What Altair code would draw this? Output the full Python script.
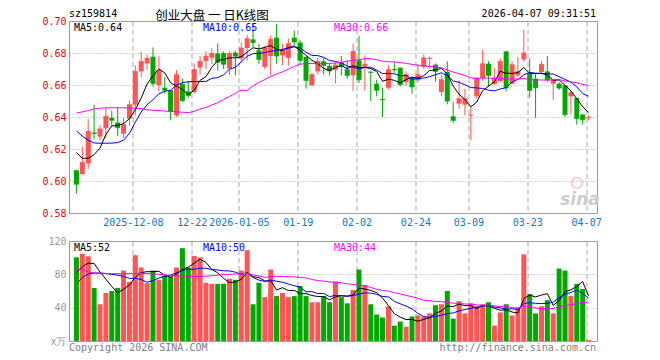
import altair as alt
import pandas as pd

RED = "#ff5555"
GREEN = "#00a800"
GRID = "#aaaaaa"
MONO = "DejaVu Sans Mono"
CJK = "Noto Sans CJK SC"

code_text = "sz159814"
title_text = "创业大盘 一 日K线图"
time_text = "2026-04-07 09:31:51"
copyright_text = "Copyright 2026 SINA.COM"
url_text = "http://finance.sina.com.cn"

opens = [0.6067, 0.6043, 0.6110, 0.6303, 0.6277, 0.6330, 0.6395, 0.6365, 0.6296, 0.6390,
         0.6477, 0.6685, 0.6735, 0.6777, 0.6600, 0.6583, 0.6567, 0.6410, 0.6606, 0.6560,
         0.6556, 0.6709, 0.6750, 0.6770, 0.6797, 0.6799, 0.6702, 0.6802, 0.6765, 0.6831,
         0.6885, 0.6817, 0.6713, 0.6781, 0.6896, 0.6785, 0.6769, 0.6896, 0.6865, 0.6775,
         0.6598, 0.6685, 0.6748, 0.6719, 0.6695, 0.6740, 0.6698, 0.6660, 0.6754, 0.6715,
         0.6683, 0.6608, 0.6512, 0.6583, 0.6700, 0.6708, 0.6619, 0.6646, 0.6629, 0.6713,
         0.6762, 0.6727, 0.6556, 0.6681, 0.6404, 0.6483, 0.6477, 0.6408, 0.6529, 0.6644,
         0.6733, 0.6608, 0.6625, 0.6810, 0.6608, 0.6660, 0.6760, 0.6671, 0.6640, 0.6681,
         0.6685, 0.6608, 0.6608, 0.6598, 0.6529, 0.6519, 0.6415, 0.6394]
highs = [0.6070, 0.6214, 0.6387, 0.6475, 0.6350, 0.6460, 0.6438, 0.6463, 0.6393, 0.6502,
         0.6723, 0.6808, 0.6790, 0.6835, 0.6780, 0.6650, 0.6570, 0.6692, 0.6641, 0.6625,
         0.6735, 0.6781, 0.6810, 0.6828, 0.6860, 0.6810, 0.6810, 0.6815, 0.6865, 0.6912,
         0.6983, 0.6858, 0.6845, 0.6910, 0.6983, 0.6858, 0.6890, 0.6942, 0.6880, 0.6780,
         0.6675, 0.6771, 0.6771, 0.6735, 0.6745, 0.6781, 0.6754, 0.6858, 0.6906, 0.6785,
         0.6685, 0.6633, 0.6583, 0.6723, 0.6742, 0.6710, 0.6685, 0.6650, 0.6729, 0.6790,
         0.6779, 0.6735, 0.6665, 0.6748, 0.6494, 0.6629, 0.6577, 0.6463, 0.6644, 0.6817,
         0.6748, 0.6708, 0.6765, 0.6810, 0.6748, 0.6775, 0.6946, 0.6765, 0.6671, 0.6748,
         0.6781, 0.6635, 0.6620, 0.6598, 0.6560, 0.6520, 0.6420, 0.6410]
lows = [0.5921, 0.6040, 0.6075, 0.6263, 0.6256, 0.6270, 0.6345, 0.6280, 0.6270, 0.6345,
        0.6410, 0.6650, 0.6695, 0.6590, 0.6558, 0.6546, 0.6379, 0.6400, 0.6494, 0.6520,
        0.6550, 0.6663, 0.6700, 0.6730, 0.6690, 0.6700, 0.6665, 0.6660, 0.6740, 0.6755,
        0.6838, 0.6733, 0.6700, 0.6660, 0.6733, 0.6723, 0.6720, 0.6845, 0.6730, 0.6577,
        0.6595, 0.6665, 0.6665, 0.6660, 0.6610, 0.6660, 0.6640, 0.6563, 0.6613, 0.6563,
        0.6500, 0.6529, 0.6400, 0.6571, 0.6677, 0.6590, 0.6595, 0.6546, 0.6615, 0.6702,
        0.6702, 0.6620, 0.6531, 0.6479, 0.6363, 0.6452, 0.6410, 0.6254, 0.6515, 0.6627,
        0.6588, 0.6598, 0.6615, 0.6560, 0.6605, 0.6650, 0.6744, 0.6521, 0.6394, 0.6665,
        0.6620, 0.6508, 0.6570, 0.6400, 0.6415, 0.6352, 0.6352, 0.6379]
closes = [0.5980, 0.6117, 0.6310, 0.6297, 0.6325, 0.6404, 0.6380, 0.6333, 0.6352, 0.6477,
          0.6685, 0.6747, 0.6767, 0.6610, 0.6690, 0.6567, 0.6435, 0.6665, 0.6503, 0.6534,
          0.6696, 0.6748, 0.6780, 0.6798, 0.6742, 0.6730, 0.6798, 0.6780, 0.6831, 0.6890,
          0.6865, 0.6760, 0.6831, 0.6885, 0.6781, 0.6817, 0.6858, 0.6869, 0.6754, 0.6629,
          0.6665, 0.6748, 0.6723, 0.6688, 0.6725, 0.6717, 0.6660, 0.6810, 0.6633, 0.6730,
          0.6679, 0.6567, 0.6508, 0.6696, 0.6696, 0.6602, 0.6665, 0.6588, 0.6665, 0.6769,
          0.6767, 0.6685, 0.6633, 0.6500, 0.6379, 0.6515, 0.6515, 0.6412, 0.6644, 0.6733,
          0.6660, 0.6644, 0.6748, 0.6583, 0.6727, 0.6685, 0.6800, 0.6567, 0.6583, 0.6729,
          0.6633, 0.6633, 0.6581, 0.6415, 0.6552, 0.6390, 0.6383, 0.6398]
volumes = [100.4, 104.5, 101.6, 63.7, 44.1, 57.6, 60.0, 63.7, 84.5, 71.0,
           102.9, 88.2, 69.4, 84.5, 73.5, 78.4, 77.1, 88.2, 111.4, 88.2,
           102.0, 100.4, 69.8, 68.6, 68.6, 68.6, 74.7, 73.5, 84.5, 109.0,
           44.1, 69.8, 52.7, 85.7, 53.9, 57.6, 52.7, 53.9, 66.0, 53.9,
           46.5, 46.5, 53.9, 46.5, 71.4, 52.7, 45.3, 61.2, 85.7, 67.3,
           44.1, 31.8, 28.2, 41.6, 18.4, 23.3, 17.1, 29.4, 30.6, 29.4,
           33.1, 42.9, 44.1, 60.0, 26.9, 47.8, 33.1, 45.3, 41.6, 44.1,
           46.5, 18.4, 34.3, 44.1, 30.6, 40.4, 104.0, 56.3, 33.1, 41.6,
           49.0, 33.1, 86.9, 84.5, 53.9, 68.6, 62.4, 1.2]

# moving-average values before a full window is available
price_ma5_head = [0.6178, 0.6142, 0.6142, 0.6165]
price_ma10_head = [0.6313, 0.6280, 0.6255, 0.6238, 0.6236, 0.6236, 0.6237, 0.6240, 0.6255]
price_ma30_head = [0.6425, 0.6432, 0.6440, 0.6450, 0.6455, 0.6457, 0.6458, 0.6458, 0.6457, 0.6456,
                   0.6455, 0.6452, 0.6445, 0.6442, 0.6440, 0.6437, 0.6435, 0.6433, 0.6430, 0.6427,
                   0.6435, 0.6450, 0.6460, 0.6475, 0.6490, 0.6510, 0.6528, 0.6548, 0.6568]
vol_ma5_head = [82.0, 89.0, 93.5, 93.0]
vol_ma10_head = [69.0, 76.0, 80.5, 81.5, 81.5, 81.0, 80.0, 79.0, 77.5]
vol_ma30_head = [87.0, 85.5, 83.0, 81.8, 81.5, 81.0, 80.8, 80.8, 80.8, 80.8,
                 81.0, 81.5, 81.0, 80.5, 80.0, 79.5, 78.5, 78.3, 78.0, 77.6,
                 77.6, 77.6, 77.8, 78.4, 79.2, 79.6, 80.0, 80.4, 80.6]

tick_pos = [9.5, 19.5, 27.5, 37.5, 47.5, 57.5, 66.5, 76.5, 86.5]
tick_labels = ["2025-12-08", "12-22", "2026-01-05", "01-19", "02-02",
               "02-24", "03-09", "03-23", "04-07"]
price_ticks = [0.58, 0.60, 0.62, 0.64, 0.66, 0.68, 0.70]
vol_ticks = [0, 40, 80, 120]

price_legend = ["MA5:0.64", "MA10:0.65", "MA30:0.66"]
vol_legend = ["MA5:52", "MA10:50", "MA30:44"]
ma_windows = [5, 10, 30]
ma_colors = ["#000000", "#0000ff", "#ff00ff"]
legend_x = [5, 134, 265]

W, H1, H2 = 528, 192, 100
n = len(closes)
idx = list(range(n))
X0 = -2.5 / 6
xscale = alt.Scale(domain=[X0, X0 + n], nice=False, zero=False)
pscale = alt.Scale(domain=[0.58, 0.70], nice=False, zero=False)
vscale = alt.Scale(domain=[0, 120], nice=False)


def moving(values, window, head):
    s = pd.Series(values, dtype=float).rolling(window).mean()
    s.iloc[:len(head)] = head
    return s.tolist()


df = pd.DataFrame({"i": idx, "open": opens, "high": highs, "low": lows,
                   "close": closes, "vol": volumes})
df["dir"] = ["up" if c >= o else "down" for o, c in zip(opens, closes)]
color = alt.Color("dir:N", scale=alt.Scale(domain=["up", "down"], range=[RED, GREEN]), legend=None)

label_expr = ("[" + ",".join("'%s'" % t for t in tick_labels) + "][indexof(["
              + ",".join(str(p) for p in tick_pos) + "], datum.value)]")

x_axis_price = alt.Axis(values=tick_pos, tickCount=30, labelExpr=label_expr, title=None,
                        domain=False, ticks=False, labelColor="#0a78d2", labelFont=MONO,
                        labelFontSize=10, labelPadding=4, labelFlush=10, labelOverlap=False,
                        grid=True, gridColor=GRID, gridDash=[5, 3], translate=1)
y_axis_price = alt.Axis(values=price_ticks, tickCount=30, format=".2f", title=None, domain=False,
                        ticks=False, labelColor="#ee0000", labelFont=MONO, labelFontSize=10,
                        labelPadding=3, labelOverlap=False, labelFlush=False,
                        grid=True, gridColor=GRID, gridDash=[1, 2])
x_axis_vol = alt.Axis(values=tick_pos, tickCount=30, labels=False, title=None, domain=False,
                      ticks=False, grid=True, gridColor=GRID, gridDash=[5, 3], translate=1)
y_axis_vol = alt.Axis(values=vol_ticks, tickCount=30,
                      labelExpr="datum.value == 0 ? 'x万' : datum.label",
                      title=None, domain=False, ticks=False, labelColor="#999999", labelFont=MONO,
                      labelFontSize=10, labelPadding=3, labelOverlap=False, labelFlush=False,
                      grid=True, gridColor=GRID, gridDash=[1, 2])

base = alt.Chart(df)
wick = base.mark_rule(strokeWidth=1).encode(
    x=alt.X("i:Q", scale=xscale, axis=x_axis_price),
    y=alt.Y("low:Q", scale=pscale, axis=y_axis_price), y2="high:Q", color=color)
body = base.mark_bar(size=5).encode(
    x=alt.X("i:Q", scale=xscale), y=alt.Y("open:Q", scale=pscale), y2="close:Q", color=color)
cap = base.mark_tick(orient="horizontal", size=5, thickness=1).encode(
    x=alt.X("i:Q", scale=xscale), y=alt.Y("close:Q", scale=pscale), color=color)

vbars = base.mark_bar(size=5).encode(
    x=alt.X("i:Q", scale=xscale, axis=x_axis_vol),
    y=alt.Y("vol:Q", scale=vscale, axis=y_axis_vol), color=color)

price_layers = [wick, body, cap]
vol_layers = [vbars]
heads_p = [price_ma5_head, price_ma10_head, price_ma30_head]
heads_v = [vol_ma5_head, vol_ma10_head, vol_ma30_head]
for w, c, hp, hv in zip(ma_windows, ma_colors, heads_p, heads_v):
    dp = pd.DataFrame({"i": idx, "v": moving(closes, w, hp)})
    dv = pd.DataFrame({"i": idx, "v": moving(volumes, w, hv)})
    price_layers.append(alt.Chart(dp).mark_line(color=c, strokeWidth=1).encode(
        x=alt.X("i:Q", scale=xscale), y=alt.Y("v:Q", scale=pscale)))
    vol_layers.append(alt.Chart(dv).mark_line(color=c, strokeWidth=1).encode(
        x=alt.X("i:Q", scale=xscale), y=alt.Y("v:Q", scale=vscale)))


def label(text, x, y, color="#000000", align="left", font=MONO, size=10, **kw):
    return alt.Chart(pd.DataFrame({"t": [text]})).mark_text(
        align=align, baseline="middle", font=font, fontSize=size, color=color, **kw
    ).encode(x=alt.value(x), y=alt.value(y), text="t:N")


for t, x, c in zip(price_legend, legend_x, ma_colors):
    price_layers.append(label(t, x, 7, c))
for t, x, c in zip(vol_legend, legend_x, ma_colors):
    vol_layers.append(label(t, x, 7, c))

price_layers += [
    label(code_text, 0, -7),
    label(title_text, 143, -5, align="center", font=CJK, size=12.5),
    label(time_text, 527, -7, align="right"),
    alt.Chart(pd.DataFrame({"t": ["logo"]})).mark_point(
        shape="circle", size=110, filled=False, color="#f3a3a3", strokeWidth=2, opacity=0.5
    ).encode(x=alt.value(508), y=alt.value(162)),
    label("sina", 511, 179, color="#cccccc", align="center", font="DejaVu Sans", size=17,
          fontStyle="italic", fontWeight="bold"),
]
vol_layers += [
    label(copyright_text, 0, 107, color="#808080"),
    label(url_text, 527, 107, color="#808080", align="right"),
]

price = alt.layer(*price_layers).properties(width=W, height=H1)
vol = alt.layer(*vol_layers).properties(width=W, height=H2)

chart = alt.vconcat(price, vol, spacing=28, bounds="flush").properties(
    padding={"left": 33, "top": 0, "right": 5, "bottom": 2}
).configure_view(stroke="#999999", strokeWidth=1)

chart.save("out.html", embed_options={"renderer": "svg", "actions": False})
